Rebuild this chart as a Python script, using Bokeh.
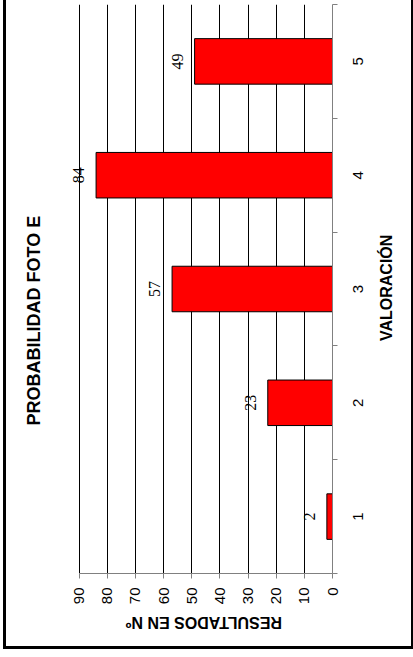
import math
from bokeh.plotting import figure
from bokeh.models import (Range1d, FixedTicker, ColumnDataSource, LabelSet, Title,
                          InlineStyleSheet, LinearAxis)
from bokeh.embed import file_html
from bokeh.resources import INLINE

categories = [1, 2, 3, 4, 5]
values = [2, 23, 57, 84, 49]
value_ticks = [0, 10, 20, 30, 40, 50, 60, 70, 80, 90]
chart_title = "PROBABILIDAD FOTO E"
value_title = "RESULTADOS EN Nº"
category_title = "VALORACIÓN"

FONT = "Liberation Sans"
GRAY = "#808080"

src = ColumnDataSource(dict(cat=categories, val=values, lab=[str(v) for v in values]))

p = figure(width=413, height=657, output_backend="svg", toolbar_location=None,
           x_range=Range1d(97, 0), y_range=Range1d(0.5, 5.5),
           x_axis_location="below", y_axis_location="right",
           min_border_left=59, min_border_right=81, min_border_top=4, min_border_bottom=84)
p.outline_line_color = None
p.background_fill_color = "white"
p.border_fill_color = "white"

p.hbar(y="cat", right="val", left=0, height=0.4, source=src,
       fill_color="#FF0000", line_color="black", line_width=1)

p.ygrid.visible = False
p.xgrid.grid_line_color = "black"
p.xgrid.grid_line_width = 1

# value axis (bottom)
xa = p.xaxis[0]
xa.ticker = FixedTicker(ticks=value_ticks)
xa.bounds = (value_ticks[0], value_ticks[-1])
xa.axis_line_color = GRAY
xa.major_tick_line_color = GRAY
xa.major_tick_out = 5
xa.major_tick_in = 0
xa.minor_tick_line_color = None
xa.major_label_orientation = math.pi / 2
xa.major_label_text_font = FONT
xa.major_label_text_font_size = "15px"
xa.major_label_text_color = "black"
xa.major_label_standoff = 9

# value-axis title, upside down, centred under the value scale
vt_pos = 73.5
xt = LinearAxis(ticker=FixedTicker(ticks=[vt_pos]), major_label_overrides={vt_pos: value_title},
                axis_line_color=None, major_tick_line_color=None, minor_tick_line_color=None,
                major_tick_out=0, major_tick_in=0,
                major_label_orientation=math.pi, major_label_standoff=15,
                major_label_text_font=FONT, major_label_text_font_size="16px",
                major_label_text_font_style="bold", major_label_text_color="black")
p.add_layout(xt, "below")

# category axis (right)
cat_shift = 0.037
cat_label_pos = [c - cat_shift for c in categories]
ya = p.yaxis[0]
ya.ticker = FixedTicker(ticks=cat_label_pos,
                        minor_ticks=[c - 0.5 for c in categories] + [categories[-1] + 0.5])
ya.major_label_overrides = {pos: str(c) for pos, c in zip(cat_label_pos, categories)}
ya.axis_line_color = GRAY
ya.major_tick_line_color = None
ya.major_tick_out = 5
ya.major_tick_in = 0
ya.minor_tick_line_color = GRAY
ya.minor_tick_out = 5
ya.minor_tick_in = 0
ya.major_label_orientation = math.pi / 2
ya.major_label_text_font = FONT
ya.major_label_text_font_size = "15px"
ya.major_label_text_color = "black"
ya.major_label_standoff = 21

# category-axis title, reading upwards, centred beside the category scale
ct_pos = 2.543
yt = LinearAxis(ticker=FixedTicker(ticks=[ct_pos]), major_label_overrides={ct_pos: category_title},
                axis_line_color=None, major_tick_line_color=None, minor_tick_line_color=None,
                major_tick_out=0, major_tick_in=0,
                major_label_orientation=math.pi / 2, major_label_standoff=15,
                major_label_text_font=FONT, major_label_text_font_size="16px",
                major_label_text_font_style="bold", major_label_text_color="black")
p.add_layout(yt, "right")

labels = LabelSet(x="val", y="cat", text="lab", source=src, angle=90, angle_units="deg",
                  text_align="center", text_baseline="bottom", x_offset=-12,
                  text_font=FONT, text_font_size="16px", text_color="black")
p.add_layout(labels)

p.add_layout(Title(text=chart_title, align="left", text_font=FONT, text_font_size="18px",
                   text_font_style="bold", text_color="black", standoff=31, offset=148), "left")

# outer chart border (drawn with CSS around the whole figure)
p.stylesheets = [InlineStyleSheet(css="""
:host { position: relative; }
:host::after {
  content: "";
  position: absolute;
  left: 2.5px; top: -5px; width: 411px; height: 654px;
  box-sizing: border-box;
  border: 3px solid black;
  pointer-events: none;
  z-index: 10;
}
""")]

open("out.html", "w").write(file_html(p, INLINE))
